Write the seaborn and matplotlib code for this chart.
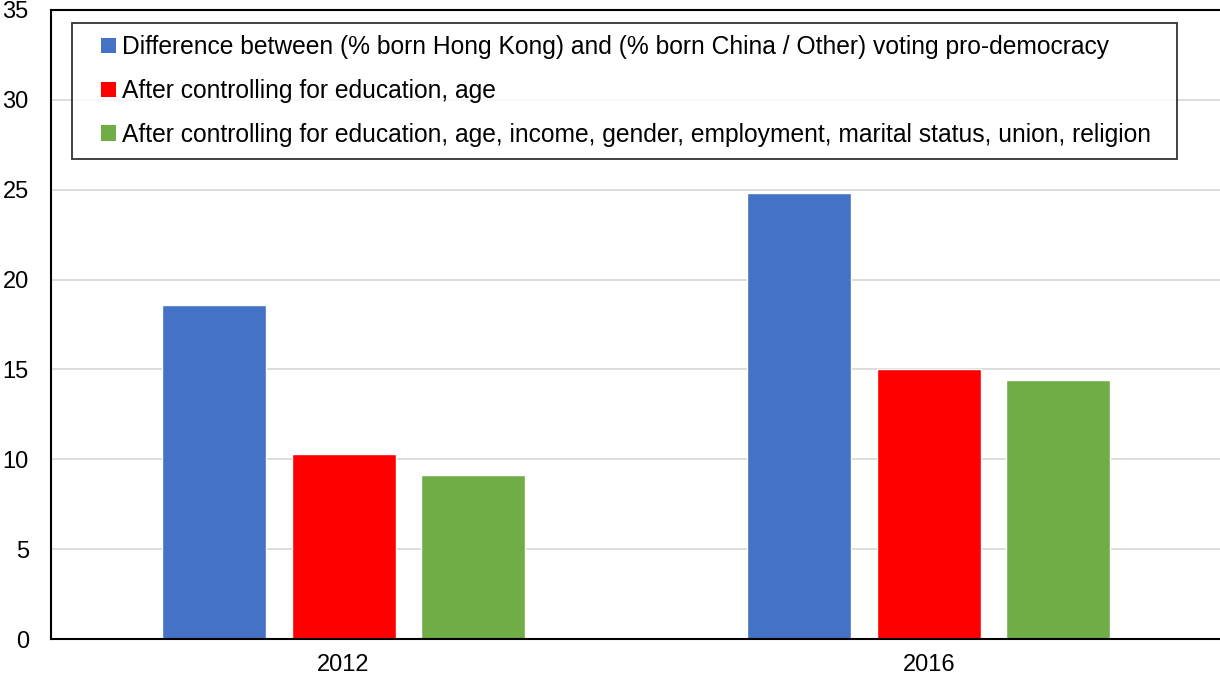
import pandas as pd
import matplotlib
matplotlib.use("Agg")
import matplotlib.pyplot as plt
import seaborn as sns
from matplotlib.patches import Patch, Rectangle
from matplotlib.legend_handler import HandlerPatch

# valores
anos = ["2012", "2016"]
series = [
    "Difference between (% born Hong Kong) and (% born China / Other) voting pro-democracy",
    "After controlling for education, age",
    "After controlling for education, age, income, gender, employment, marital status, union, religion",
]
dif_bruta = [18.6, 24.8]
ctrl_edu_idade = [10.3, 15.05]
ctrl_todos = [9.15, 14.4]
cores = ["#4472C4", "#FF0000", "#70AD47"]

df = pd.DataFrame({
    "ano": anos * 3,
    "serie": [series[0]] * 2 + [series[1]] * 2 + [series[2]] * 2,
    "valor": dif_bruta + ctrl_edu_idade + ctrl_todos,
})

sns.set_style("white")
plt.rcParams["font.family"] = ["Liberation Sans", "DejaVu Sans"]
plt.rcParams["text.color"] = "black"

fig = plt.figure(figsize=(12.2, 6.79), dpi=100)
ax = fig.add_axes([51 / 1220, 40 / 679, 1170.5 / 1220, 629 / 679])

sns.barplot(data=df, x="ano", y="valor", hue="serie", hue_order=series,
            palette=cores, width=0.664, gap=0.196, saturation=1,
            legend=False, ax=ax)

ax.set_xlim(-0.5, 1.5)
ax.set_ylim(0, 35)
ax.set_yticks(range(0, 36, 5))
ax.yaxis.grid(True, color="#D9D9D9", linewidth=1.3)
ax.set_axisbelow(True)
for s in ax.spines.values():
    s.set_color("black")
    s.set_linewidth(1.5)
ax.tick_params(axis="both", labelsize=17, length=0, colors="black")
ax.tick_params(axis="y", pad=16)
ax.tick_params(axis="x", pad=11)
ax.set_xlabel("")
ax.set_ylabel("")


# quadradinho da legenda encostado no texto
def quadrado(legend, orig_handle, xdescent, ydescent, width, height, fontsize):
    lado = height
    return Rectangle((-xdescent + width - lado, -ydescent), lado, lado)


handles = [Patch(facecolor=c, edgecolor="none") for c in cores]
leg = ax.legend(handles, series, loc="upper left",
                bbox_to_anchor=(21 / 1170.5, 1 - 13 / 629 - 0.3, 1105 / 1170.5, 0.3),
                mode="expand", fontsize=17.7, frameon=True, fancybox=False,
                edgecolor="black", handlelength=1.3, handleheight=0.58,
                handletextpad=0.25, labelspacing=0.8, borderpad=0.5,
                borderaxespad=0,
                handler_map={Patch: HandlerPatch(patch_func=quadrado)})
leg.get_frame().set_linewidth(1.3)

plt.savefig("out.png", dpi=100)
